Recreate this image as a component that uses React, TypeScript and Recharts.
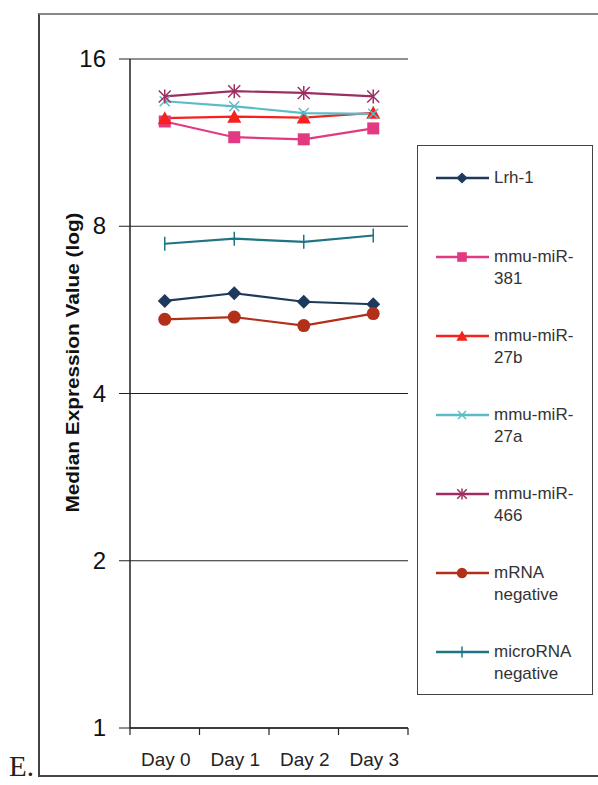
import React from "react";
import {
  LineChart,
  Line,
  XAxis,
  YAxis,
  CartesianGrid,
} from "recharts";

const days = ["Day 0", "Day 1", "Day 2", "Day 3"];
const yTicks = [1, 2, 4, 8, 16];

const lrh1 = [5.87, 6.06, 5.85, 5.79];
const mir381 = [12.35, 11.57, 11.47, 12.0];
const mir27b = [12.52, 12.6, 12.55, 12.8];
const mir27a = [13.43, 13.15, 12.79, 12.75];
const mir466 = [13.7, 14.0, 13.9, 13.7];
const mrnaNeg = [5.44, 5.49, 5.3, 5.57];
const microNeg = [7.44, 7.6, 7.5, 7.7];

type Shape = "diamond" | "square" | "triangle" | "cross" | "star" | "circle" | "bar";

const series: { key: string; label: string[]; values: number[]; color: string; shape: Shape }[] = [
  { key: "lrh1", label: ["Lrh-1"], values: lrh1, color: "#1d3a5c", shape: "diamond" },
  { key: "mir381", label: ["mmu-miR-", "381"], values: mir381, color: "#e23a82", shape: "square" },
  { key: "mir27b", label: ["mmu-miR-", "27b"], values: mir27b, color: "#f5221e", shape: "triangle" },
  { key: "mir27a", label: ["mmu-miR-", "27a"], values: mir27a, color: "#5bbcc6", shape: "cross" },
  { key: "mir466", label: ["mmu-miR-", "466"], values: mir466, color: "#9c2e62", shape: "star" },
  { key: "mrnaNeg", label: ["mRNA", "negative"], values: mrnaNeg, color: "#b2301a", shape: "circle" },
  { key: "microNeg", label: ["microRNA", "negative"], values: microNeg, color: "#1f7485", shape: "bar" },
];

const data = days.map((day, i) => {
  const row: Record<string, string | number> = { day };
  series.forEach((s) => (row[s.key] = s.values[i]));
  return row;
});

const W = 598;
const H = 785;
const PLOT_LEFT = 130;
const PLOT_RIGHT = 408;
const PLOT_TOP = 59;
const PLOT_BOTTOM = 728;
const X_AXIS_H = 44;
const BAND = (PLOT_RIGHT - PLOT_LEFT) / days.length;
const FONT = "'Liberation Sans', Arial, sans-serif";

function marker(shape: Shape, cx: number, cy: number, color: string, k: string | number, s = 1) {
  switch (shape) {
    case "diamond":
      return (
        <polygon key={k} points={`${cx},${cy - 7 * s} ${cx + 7 * s},${cy} ${cx},${cy + 7 * s} ${cx - 7 * s},${cy}`} fill={color} />
      );
    case "square":
      return <rect key={k} x={cx - 6 * s} y={cy - 6 * s} width={12 * s} height={12 * s} fill={color} />;
    case "triangle":
      return (
        <polygon key={k} points={`${cx},${cy - 7 * s} ${cx + 7 * s},${cy + 6 * s} ${cx - 7 * s},${cy + 6 * s}`} fill={color} />
      );
    case "cross":
      return (
        <g key={k} stroke={color} strokeWidth={1.5}>
          <line x1={cx - 5 * s} y1={cy - 5 * s} x2={cx + 5 * s} y2={cy + 5 * s} />
          <line x1={cx - 5 * s} y1={cy + 5 * s} x2={cx + 5 * s} y2={cy - 5 * s} />
        </g>
      );
    case "star":
      return (
        <g key={k} stroke={color} strokeWidth={1.5}>
          <line x1={cx - 6 * s} y1={cy - 6 * s} x2={cx + 6 * s} y2={cy + 6 * s} />
          <line x1={cx - 6 * s} y1={cy + 6 * s} x2={cx + 6 * s} y2={cy - 6 * s} />
          <line x1={cx} y1={cy - 7 * s} x2={cx} y2={cy + 7 * s} />
        </g>
      );
    case "circle":
      return <circle key={k} cx={cx} cy={cy} r={6.5 * s} fill={color} />;
    case "bar":
      return (
        <g key={k} stroke={color} strokeWidth={1.5}>
          <line x1={cx} y1={cy - 7 * s} x2={cx} y2={cy + 7 * s} />
        </g>
      );
  }
}

// category ticks sit between the days, labels under the band centres
const DayTick = (props: any) => {
  const { x, y, payload, index } = props;
  return (
    <g>
      <line x1={x - BAND / 2} y1={y - 8} x2={x - BAND / 2} y2={y - 1} stroke="#222" strokeWidth={1.2} />
      {index === days.length - 1 && (
        <line x1={x + BAND / 2} y1={y - 8} x2={x + BAND / 2} y2={y - 1} stroke="#222" strokeWidth={1.2} />
      )}
      <text x={x + 1} y={y + 30} textAnchor="middle" fontSize={19} fontFamily={FONT} fill="#222">
        {payload.value}
      </text>
    </g>
  );
};

const ValueTick = (props: any) => {
  const { x, y, payload } = props;
  return (
    <text x={x - 11} y={y + 8} textAnchor="end" fontSize={24} fontFamily={FONT} fill="#111">
      {payload.value}
    </text>
  );
};

function LegendBox() {
  return (
    <div
      style={{
        position: "absolute",
        left: 417,
        top: 145,
        width: 176,
        height: 550,
        border: "1.5px solid #444",
        boxSizing: "border-box",
        fontFamily: FONT,
        fontSize: 17,
        color: "#333",
      }}
    >
      {series.map((s, i) => (
        <div key={s.key} style={{ position: "absolute", left: 0, top: 21 + i * 79, width: "100%" }}>
          <svg width={74} height={22} style={{ position: "absolute", left: 0, top: 0 }}>
            <line x1={18} y1={11} x2={71} y2={11} stroke={s.color} strokeWidth={2.5} />
            {marker(s.shape, 44, 11, s.color, "m", 0.8)}
          </svg>
          <div style={{ position: "absolute", left: 76, top: 0, lineHeight: "22px" }}>
            {s.label.map((t) => (
              <div key={t}>{t}</div>
            ))}
          </div>
        </div>
      ))}
    </div>
  );
}

export default function App() {
  return (
    <div style={{ position: "absolute", left: 0, top: 0, width: W, height: H, background: "#fff" }}>
      {/* outer figure frame */}
      <div
        style={{
          position: "absolute",
          left: 38,
          top: 13,
          width: W,
          height: 764,
          borderLeft: "2px solid #444",
          borderTop: "2px solid #888",
          borderBottom: "2px solid #444",
          boxSizing: "border-box",
        }}
      />
      <div
        style={{
          position: "absolute",
          left: 9,
          top: 752,
          fontFamily: "'Liberation Serif', 'Times New Roman', serif",
          fontSize: 29,
          lineHeight: "28px",
          color: "#222",
        }}
      >
        E.
      </div>
      <div style={{ position: "absolute", left: 0, top: 0 }}>
        <LineChart
          width={W}
          height={H}
          data={data}
          margin={{
            top: PLOT_TOP,
            right: W - PLOT_RIGHT,
            left: PLOT_LEFT - 70,
            bottom: H - PLOT_BOTTOM - X_AXIS_H,
          }}
        >
          <CartesianGrid vertical={false} stroke="#222" strokeWidth={1.2} />
          <XAxis
            dataKey="day"
            scale="band"
            height={X_AXIS_H}
            tickLine={false}
            axisLine={{ stroke: "#222", strokeWidth: 1.5 }}
            tick={<DayTick />}
            interval={0}
          />
          <YAxis
            type="number"
            scale="log"
            domain={[1, 16]}
            ticks={yTicks}
            allowDataOverflow
            width={70}
            tickSize={11}
            tickLine={{ stroke: "#222" }}
            axisLine={{ stroke: "#222", strokeWidth: 1.5 }}
            tick={<ValueTick />}
            label={{
              content: (p: any) => {
                const vb = p.viewBox;
                const cx = vb.x + 19;
                const cy = vb.y + vb.height / 2 - 31;
                return (
                  <text
                    transform={`translate(${cx},${cy}) rotate(-90)`}
                    textAnchor="middle"
                    fontSize={18}
                    fontWeight="bold"
                    fontFamily={FONT}
                    fill="#111"
                    textLength={300}
                    lengthAdjust="spacingAndGlyphs"
                  >
                    Median Expression Value (log)
                  </text>
                );
              },
            }}
          />
          <YAxis
            yAxisId="right"
            orientation="right"
            width={0}
            tick={false}
            tickLine={false}
            axisLine={{ stroke: "#222", strokeWidth: 1.5 }}
          />
          {series.map((s) => (
            <Line
              key={s.key}
              dataKey={s.key}
              stroke={s.color}
              strokeWidth={2.2}
              isAnimationActive={false}
              dot={(p: any) => marker(s.shape, p.cx, p.cy, s.color, `${s.key}-${p.index}`)}
              activeDot={false}
            />
          ))}
        </LineChart>
      </div>
      <LegendBox />
    </div>
  );
}
